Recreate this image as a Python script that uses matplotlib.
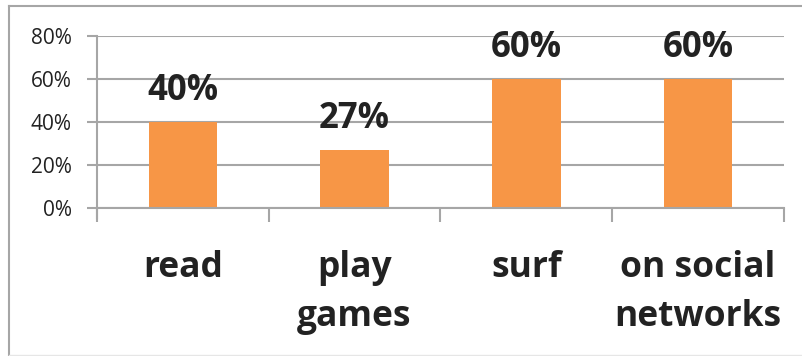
import numpy as np
import matplotlib.pyplot as plt
from matplotlib.lines import Line2D

categories = ['read', 'play\ngames', 'surf', 'on social\nnetworks']
shares = [40, 27, 60, 60]
value_labels = ['40%', '27%', '60%', '60%']
y_ticks = [0, 20, 40, 60, 80]

BAR_COLOR = '#F79646'
GRID_COLOR = '#A6A6A6'
TEXT_COLOR = '#222222'
FONT = 'Open Sans'

W, H = 803, 356
fig = plt.figure(figsize=(W / 100, H / 100), dpi=100)
ax = fig.add_axes([97 / W, 1 - 208 / H, (784 - 97) / W, (208 - 36) / H])

x = np.arange(len(categories))
ax.bar(x, shares, width=0.4, color=BAR_COLOR, zorder=3)

for xi, val, lab in zip(x, shares, value_labels):
    ax.annotate(lab, (xi, val), xytext=(0, 16), textcoords='offset points',
                ha='center', va='baseline', fontsize=25, fontweight='bold',
                family=FONT, color=TEXT_COLOR)

ax.set_xlim(-0.5, len(categories) - 0.5)
ax.set_ylim(0, 80)
ax.set_yticks(y_ticks)
ax.set_yticklabels([f'{t}%' for t in y_ticks], fontsize=15, family=FONT, color=TEXT_COLOR)
ax.yaxis.grid(True, color=GRID_COLOR, linewidth=1.5, zorder=0)

# category boundaries get the tick marks, labels sit in between
ax.set_xticks(np.arange(-0.5, len(categories)), minor=False)
ax.set_xticklabels([])
ax.set_xticks(x, minor=True)
ax.set_xticklabels(categories, minor=True, fontsize=25.5, fontweight='bold',
                   family=FONT, color=TEXT_COLOR, linespacing=1.5)
ax.tick_params(axis='x', which='minor', length=0, pad=30)
ax.tick_params(axis='x', which='major', length=10, width=1.5, color=GRID_COLOR)
ax.tick_params(axis='y', length=7, width=1.5, color=GRID_COLOR, pad=11)

for side in ['top', 'right']:
    ax.spines[side].set_visible(False)
for side in ['left', 'bottom']:
    ax.spines[side].set_color(GRID_COLOR)
    ax.spines[side].set_linewidth(1.5)
ax.spines['left'].set_bounds(-4.5, 80)
ax.spines['bottom'].set_zorder(4)

# outer chart frame
fig.add_artist(Line2D([9 / W, 1], [1 - 6 / H, 1 - 6 / H], color=GRID_COLOR, lw=1.5))
fig.add_artist(Line2D([9 / W, 9 / W], [0, 1 - 6 / H], color=GRID_COLOR, lw=1.5))
fig.add_artist(Line2D([9 / W, 1], [1 / H, 1 / H], color='#E6E6E6', lw=1))

fig.savefig('out.png', dpi=100)
